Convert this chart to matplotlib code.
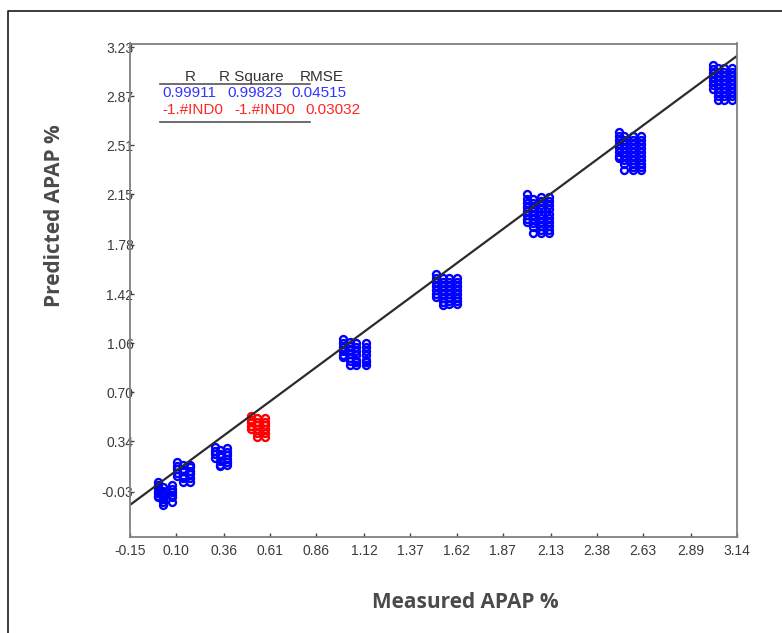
import numpy as np
import matplotlib
matplotlib.use("Agg")
import matplotlib.pyplot as plt
from matplotlib.lines import Line2D

# axis ticks as printed on the chart
xtick_labels = ["-0.15", "0.10", "0.36", "0.61", "0.86", "1.12", "1.37",
                "1.62", "1.87", "2.13", "2.38", "2.63", "2.89", "3.14"]
ytick_labels = ["-0.03", "0.34", "0.70", "1.06", "1.42", "1.78",
                "2.15", "2.51", "2.87", "3.23"]

# calibration points (blue) : each level -> columns of (x, [predicted values])
calib = [
    [(0.00, [0.04, 0.02, 0.00, -0.02, -0.04, -0.06, -0.07]),
     (0.03, [0.01, -0.02, -0.04, -0.06, -0.08, -0.10, -0.125]),
     (0.075, [0.02, -0.01, -0.03, -0.05, -0.07, -0.10])],
    [(0.105, [0.19, 0.16, 0.14, 0.11, 0.09]),
     (0.135, [0.17, 0.14, 0.12, 0.09, 0.07, 0.04]),
     (0.175, [0.17, 0.15, 0.12, 0.10, 0.07, 0.04])],
    [(0.31, [0.30, 0.27, 0.25, 0.22]),
     (0.34, [0.28, 0.25, 0.23, 0.20, 0.17, 0.16]),
     (0.375, [0.29, 0.26, 0.24, 0.21, 0.19, 0.17])],
    [(1.005, [1.09, 1.06, 1.03, 1.00, 0.97, 0.96]),
     (1.04, [1.07, 1.04, 1.01, 0.98, 0.95, 0.93, 0.90]),
     (1.075, [1.06, 1.03, 1.00, 0.97, 0.94, 0.92, 0.90]),
     (1.13, [1.06, 1.03, 1.00, 0.97, 0.94, 0.92, 0.90])],
    [(1.51, [1.57, 1.54, 1.51, 1.48, 1.45, 1.42, 1.40]),
     (1.545, [1.54, 1.51, 1.48, 1.45, 1.42, 1.39, 1.36, 1.34]),
     (1.58, [1.54, 1.51, 1.48, 1.45, 1.42, 1.39, 1.37, 1.35]),
     (1.625, [1.54, 1.51, 1.48, 1.45, 1.42, 1.39, 1.37, 1.35])],
    [(2.00, [2.15, 2.12, 2.09, 2.06, 2.03, 2.00, 1.97, 1.95]),
     (2.035, [2.12, 2.09, 2.06, 2.03, 2.00, 1.97, 1.94, 1.91, 1.87]),
     (2.08, [2.13, 2.10, 2.07, 2.04, 2.01, 1.98, 1.95, 1.92, 1.89, 1.87]),
     (2.12, [2.13, 2.10, 2.07, 2.04, 2.01, 1.98, 1.95, 1.92, 1.89, 1.87])],
    [(2.50, [2.61, 2.58, 2.55, 2.52, 2.49, 2.46, 2.43, 2.42]),
     (2.53, [2.58, 2.55, 2.52, 2.49, 2.46, 2.43, 2.40, 2.37, 2.33]),
     (2.575, [2.58, 2.55, 2.52, 2.49, 2.46, 2.43, 2.40, 2.37, 2.35, 2.33]),
     (2.62, [2.58, 2.55, 2.52, 2.49, 2.46, 2.43, 2.40, 2.37, 2.35, 2.33])],
    [(3.01, [3.10, 3.07, 3.04, 3.01, 2.98, 2.95, 2.92]),
     (3.035, [3.08, 3.05, 3.02, 2.99, 2.96, 2.93, 2.90, 2.87, 2.84]),
     (3.07, [3.08, 3.05, 3.02, 2.99, 2.96, 2.93, 2.90, 2.87, 2.84]),
     (3.115, [3.08, 3.05, 3.02, 2.99, 2.96, 2.93, 2.90, 2.87, 2.84])],
]

# validation points (red)
valid = [
    (0.505, [0.53, 0.50, 0.48, 0.45, 0.43]),
    (0.54, [0.51, 0.48, 0.46, 0.43, 0.40, 0.37]),
    (0.58, [0.51, 0.48, 0.46, 0.43, 0.40, 0.375]),
]

# fitted line
slope = 1.0
intercept = 0.025

stats_header = ["R", "R Square", "RMSE"]
stats_cal = ["0.99911", "0.99823", "0.04515"]
stats_val = ["-1.#IND0", "-1.#IND0", "0.03032"]

plt.rcParams['font.family'] = ['Liberation Sans', 'DejaVu Sans']

fig = plt.figure(figsize=(7.82, 6.33), dpi=100)
ax = fig.add_axes([130/782, 1-537/633, 607/782, 493.5/633])

for level in calib:
    for x, ys in level:
        ax.plot([x]*len(ys), ys, 'o', ms=5, mfc='none', mec='#0000ff', mew=1.7)
for x, ys in valid:
    ax.plot([x]*len(ys), ys, 'o', ms=5, mfc='none', mec='#ff0000', mew=1.7)

xl = np.array([-0.15, 3.14])
ax.plot(xl, slope*xl + intercept, color='#2b2b2b', lw=1.6)

ax.set_xlim(-0.15, 3.14)
ax.set_ylim(-0.36, 3.256)
ax.set_xticks([float(t) for t in xtick_labels])
ax.set_xticklabels(xtick_labels)
ax.set_yticks([float(t) for t in ytick_labels])
ax.set_yticklabels(ytick_labels)
ax.tick_params(direction='in', length=3, width=1, color='#444444',
               labelsize=10, labelcolor='#3a3a3a')
ax.tick_params(axis='y', pad=-2.5)
ax.tick_params(axis='x', pad=5)
for s in ax.spines.values():
    s.set_color('#808080')
    s.set_linewidth(1.3)

# stats table in the upper left
tf = dict(fontsize=11, va='center', transform=fig.transFigure)
fig.text(190/782, 1-77/633, stats_header[0], color='#333333', ha='center', **tf)
fig.text(219/782, 1-77/633, stats_header[1], color='#333333', ha='left', **tf)
fig.text(300/782, 1-77/633, stats_header[2], color='#333333', ha='left', **tf)
for i, xp in enumerate([162, 227, 291]):
    fig.text(xp/782, 1-93/633, stats_cal[i], color='#3535ff', ha='left', **tf)
for i, xp in enumerate([162, 234, 305]):
    fig.text(xp/782, 1-110/633, stats_val[i], color='#ff2525', ha='left', **tf)
for yp in [84, 122]:
    fig.add_artist(Line2D([160/782, 310/782], [1-yp/633, 1-yp/633],
                          color='#555555', lw=1.2))

fig.text(465/782, 1-603/633, "Measured APAP %", fontsize=15, fontweight='bold',
         family=['Open Sans', 'DejaVu Sans'], color='#4a4a4a', ha='center', va='center')
fig.text(55/782, 1-216/633, "Predicted APAP %", fontsize=15, fontweight='bold',
         family=['Open Sans', 'DejaVu Sans'], color='#4a4a4a', ha='center', va='center',
         rotation=90)

# outer frame (left and top edges visible)
fig.add_artist(Line2D([8/782, 8/782, 1.0], [0.0, 1-11/633, 1-11/633],
                      color='#1a1a1a', lw=1.2))

fig.savefig("out.png", dpi=100)
